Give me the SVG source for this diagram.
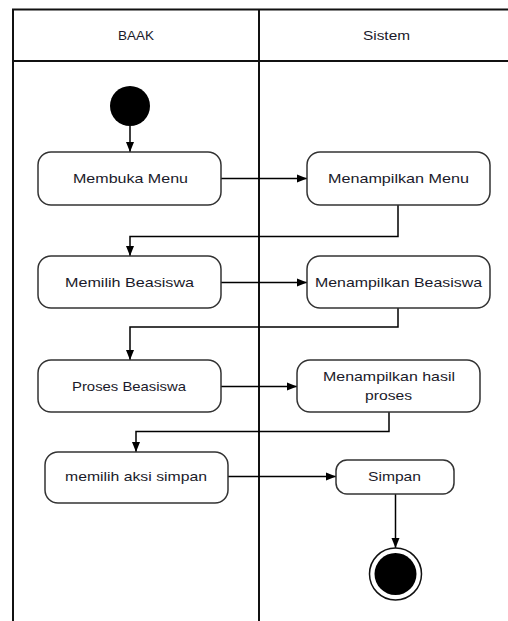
<svg xmlns="http://www.w3.org/2000/svg" width="508" height="621" viewBox="0 0 508 621">
  <style>
    .lane { fill: none; stroke: #111; stroke-width: 2; }
    .act rect { fill: #fff; stroke: #333; stroke-width: 1.5; }
    .act text, .hdr { font-family: "Liberation Sans", Arial, sans-serif; font-size: 13px; fill: #1a1a2a; text-anchor: middle; }
    .flow { fill: none; stroke: #000; stroke-width: 1.5; marker-end: url(#arrow); }
  </style>
  <defs>
    <marker id="arrow" viewBox="0 0 10 10" refX="10" refY="5" markerWidth="10" markerHeight="10" markerUnits="userSpaceOnUse" orient="auto">
      <path d="M0,1 L10,5 L0,9 Z" fill="#000"/>
    </marker>
  </defs>
  <rect width="508" height="621" fill="#fff"/>

  <!-- swimlanes -->
  <g id="lanes">
    <path class="lane" d="M13,625 V9.5 H515 M13,61 H515 M259,9.5 V625"/>
    <text class="hdr" x="136" y="39.5" textLength="36" lengthAdjust="spacingAndGlyphs">BAAK</text>
    <text class="hdr" x="386.5" y="39.5" textLength="47" lengthAdjust="spacingAndGlyphs">Sistem</text>
  </g>

  <!-- connectors -->
  <g id="connectors">
    <path class="flow" d="M130,126 V152"/>
    <path class="flow" d="M221,178.5 H307"/>
    <path class="flow" d="M398,205 V236.5 H130 V256"/>
    <path class="flow" d="M221,282.5 H307"/>
    <path class="flow" d="M398,308 V327 H130 V360"/>
    <path class="flow" d="M221,386.5 H297"/>
    <path class="flow" d="M389,412 V431.5 H136 V452"/>
    <path class="flow" d="M228,476.5 H336"/>
    <path class="flow" d="M395.5,494 V548"/>
  </g>

  <!-- start -->
  <g id="start">
    <circle cx="130" cy="106" r="20" fill="#000"/>
  </g>

  <g id="membuka-menu" class="act">
    <rect x="38" y="152" width="183" height="53" rx="13"/>
    <text x="130.5" y="183" textLength="115" lengthAdjust="spacingAndGlyphs">Membuka Menu</text>
  </g>
  <g id="menampilkan-menu" class="act">
    <rect x="307" y="152" width="183" height="53" rx="13"/>
    <text x="398.5" y="183" textLength="141" lengthAdjust="spacingAndGlyphs">Menampilkan Menu</text>
  </g>

  <g id="memilih-beasiswa" class="act">
    <rect x="38" y="256" width="183" height="52" rx="13"/>
    <text x="129.5" y="287" textLength="129" lengthAdjust="spacingAndGlyphs">Memilih  Beasiswa</text>
  </g>
  <g id="menampilkan-beasiswa" class="act">
    <rect x="307" y="256" width="183" height="52" rx="13"/>
    <text x="398.5" y="287" textLength="167" lengthAdjust="spacingAndGlyphs">Menampilkan  Beasiswa</text>
  </g>

  <g id="proses-beasiswa" class="act">
    <rect x="38" y="360" width="183" height="52" rx="13"/>
    <text x="129" y="391" textLength="114" lengthAdjust="spacingAndGlyphs">Proses Beasiswa</text>
  </g>
  <g id="menampilkan-hasil" class="act">
    <rect x="297" y="360" width="183" height="52" rx="13"/>
    <text x="389" y="380.5" textLength="132" lengthAdjust="spacingAndGlyphs">Menampilkan hasil</text>
    <text x="388.5" y="399.5" textLength="47" lengthAdjust="spacingAndGlyphs">proses</text>
  </g>

  <g id="memilih-aksi-simpan" class="act">
    <rect x="45" y="452" width="183" height="51" rx="13"/>
    <text x="136" y="481" textLength="142" lengthAdjust="spacingAndGlyphs">memilih aksi simpan</text>
  </g>
  <g id="simpan" class="act">
    <rect x="336" y="460" width="118" height="34" rx="11"/>
    <text x="394.5" y="481" textLength="53" lengthAdjust="spacingAndGlyphs">Simpan</text>
  </g>

  <!-- end -->
  <g id="end">
    <circle cx="395.5" cy="574" r="26" fill="#fff" stroke="#111" stroke-width="1.5"/>
    <circle cx="395.5" cy="574" r="21" fill="#000"/>
  </g>
</svg>
